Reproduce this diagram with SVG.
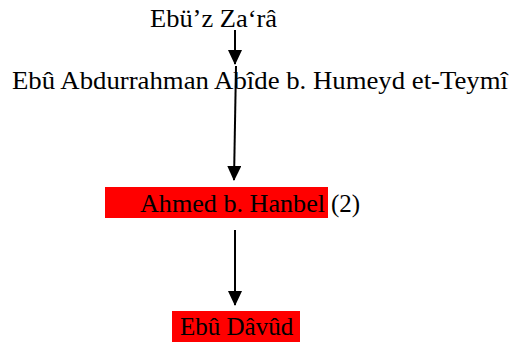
<svg xmlns="http://www.w3.org/2000/svg" width="512" height="344" viewBox="0 0 512 344">
<style>
text{font-family:"Liberation Serif","Times New Roman",serif;font-size:25px;fill:#000}
.hl{fill:#ff0000}
.c line{stroke:#000;stroke-width:2}
</style>
<defs>
<marker id="ah" markerWidth="15" markerHeight="14" viewBox="0 0 15 14" refX="14" refY="7" orient="auto" markerUnits="userSpaceOnUse">
<path d="M0,0 L15,7 L0,14 z" fill="#000"/>
</marker>
</defs>
<rect width="512" height="344" fill="#fff"/>
<g id="n1"><text x="150" y="27" textLength="127" lengthAdjust="spacingAndGlyphs">Ebü’z Za‘râ</text></g>
<g id="n2"><text x="12" y="89" textLength="496" lengthAdjust="spacingAndGlyphs">Ebû Abdurrahman Abîde b. Humeyd et-Teymî</text></g>
<g id="n3"><rect class="hl" x="105" y="187" width="223" height="31"/><text x="140" y="212" textLength="185" lengthAdjust="spacingAndGlyphs">Ahmed b. Hanbel</text><text x="331" y="212">(2)</text></g>
<g id="n4"><rect class="hl" x="172" y="311" width="128" height="31"/><text x="180" y="335">Ebû Dâvûd</text></g>
<g class="c" id="connectors">
<line x1="235" y1="30" x2="235" y2="64" marker-end="url(#ah)"/>
<line x1="236" y1="66" x2="234" y2="180" marker-end="url(#ah)"/>
<line x1="235" y1="230" x2="235" y2="305" marker-end="url(#ah)"/>
</g>
</svg>
